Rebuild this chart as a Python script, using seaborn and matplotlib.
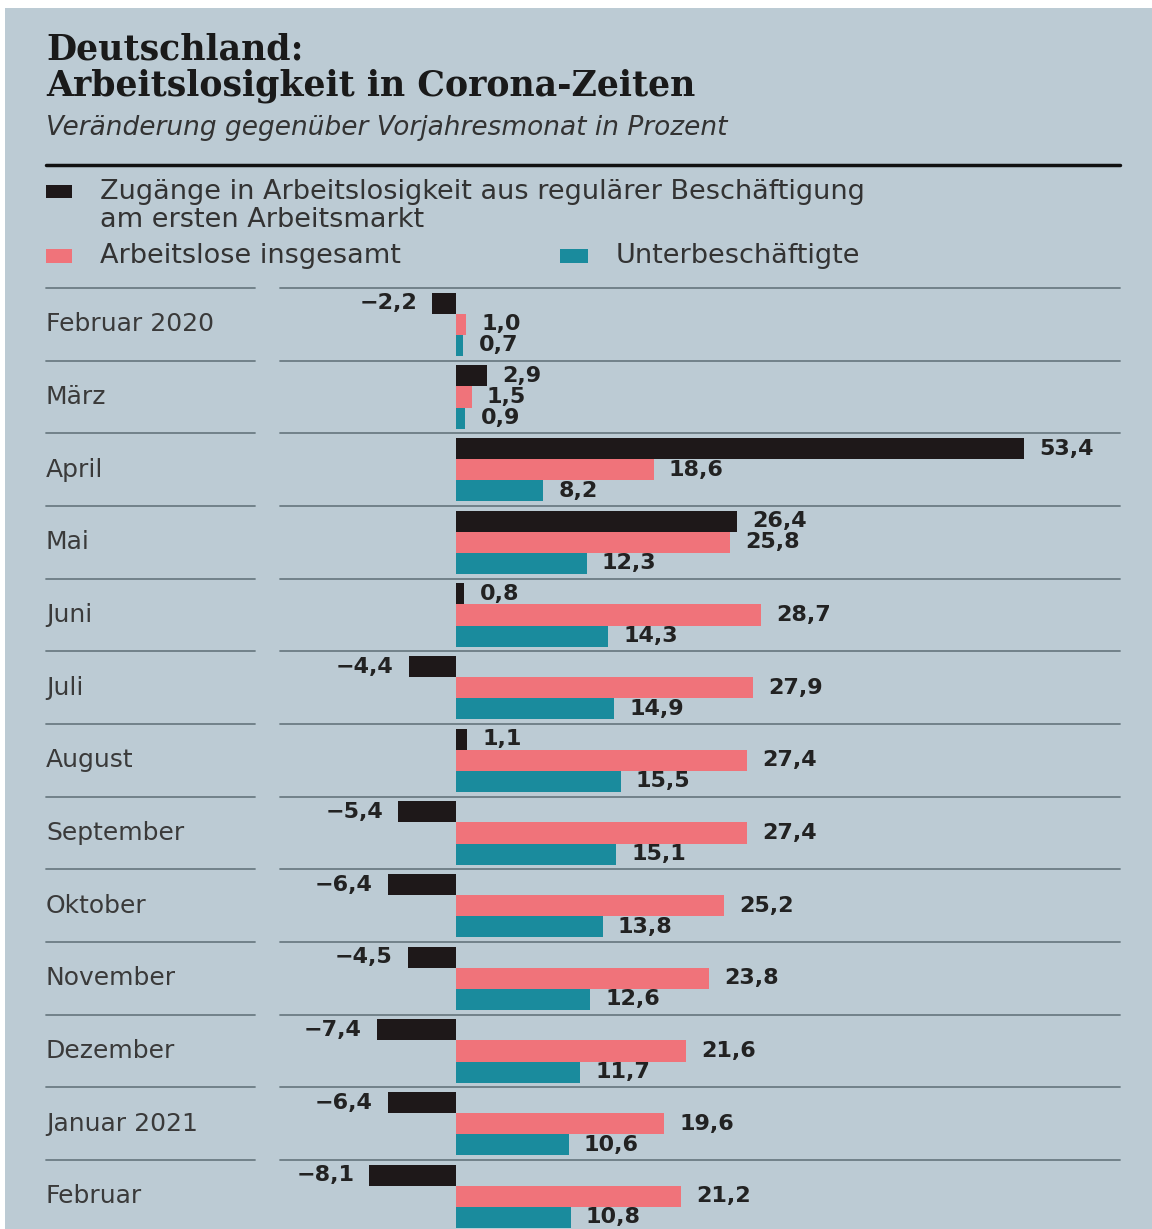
import matplotlib
matplotlib.use("Agg")
import matplotlib.pyplot as plt
import matplotlib.transforms as mtransforms
from matplotlib.patches import Rectangle
from matplotlib.lines import Line2D
import pandas as pd
import seaborn as sns

months = ["Februar 2020", "März", "April", "Mai", "Juni", "Juli", "August",
          "September", "Oktober", "November", "Dezember", "Januar 2021", "Februar"]
zugaenge = [-2.2, 2.9, 53.4, 26.4, 0.8, -4.4, 1.1, -5.4, -6.4, -4.5, -7.4, -6.4, -8.1]
arbeitslose = [1.0, 1.5, 18.6, 25.8, 28.7, 27.9, 27.4, 27.4, 25.2, 23.8, 21.6, 19.6, 21.2]
unterbesch = [0.7, 0.9, 8.2, 12.3, 14.3, 14.9, 15.5, 15.1, 13.8, 12.6, 11.7, 10.6, 10.8]

series = ["Zugänge in Arbeitslosigkeit aus regulärer Beschäftigung\nam ersten Arbeitsmarkt",
          "Arbeitslose insgesamt", "Unterbeschäftigte"]
colors = ["#1e1819", "#f0737a", "#1a8b9d"]
bg = "#bccbd4"
W, H = 1152, 1229

df = pd.concat([
    pd.DataFrame({"Monat": months, "Wert": vals, "Reihe": name})
    for name, vals in zip(series, [zugaenge, arbeitslose, unterbesch])
])

sns.set_theme(style="white")
plt.rcParams["font.family"] = ["DejaVu Sans"]

fig = plt.figure(figsize=(W / 100, H / 100), dpi=100, facecolor="white")
fx = lambda px: px / W
fy = lambda py: 1 - py / H

fig.patches.append(Rectangle((fx(5), 0), 1 - fx(5), fy(8), transform=fig.transFigure,
                             facecolor=bg, edgecolor="none", zorder=-10))

ax = fig.add_axes([fx(280), 0, fx(1120) - fx(280), fy(288)])
ax.set_facecolor("none")
sns.barplot(data=df, y="Monat", x="Wert", hue="Reihe", orient="h", order=months,
            hue_order=series, palette=colors, saturation=1, width=0.87,
            edgecolor="none", linewidth=0, legend=False, ax=ax, zorder=3)

ax.set_xlim(-16.5, 62.4)
ax.set_ylim(12.45, -0.5)
ax.set_xlabel("")
ax.set_ylabel("")
ax.set_xticks([])
ax.set_yticks([])
for s in ax.spines.values():
    s.set_visible(False)


def fmt(v):
    return f"{v:.1f}".replace(".", ",").replace("-", "\u2212")


for cont, vals in zip(ax.containers, [zugaenge, arbeitslose, unterbesch]):
    ax.bar_label(cont, labels=[fmt(v) for v in vals], padding=11,
                 fontsize=16, fontweight="bold", color="#222222")

# Zeilen-Trennlinien und Monatsnamen
blend = mtransforms.blended_transform_factory(fig.transFigure, ax.transData)
line_col = "#6c7c84"
for i in range(len(months)):
    ax.plot([-16.5, 62.4], [i - 0.5, i - 0.5], color=line_col, lw=1.3,
            clip_on=False, zorder=1)
    fig.add_artist(Line2D([fx(46), fx(255)], [i - 0.5, i - 0.5], transform=blend,
                          color=line_col, lw=1.3))
for i, m in enumerate(months):
    fig.text(fx(46), i, m, transform=blend, ha="left", va="center",
             fontsize=18, color="#3a3a3a")

# Titel
fig.text(fx(46), fy(49), "Deutschland:", fontsize=25, fontweight="bold",
         family="DejaVu Serif", color="#1a1a1a", va="center")
fig.text(fx(46), fy(86), "Arbeitslosigkeit in Corona-Zeiten", fontsize=25,
         fontweight="bold", family="DejaVu Serif", color="#1a1a1a", va="center")
fig.text(fx(46), fy(128), "Veränderung gegenüber Vorjahresmonat in Prozent",
         fontsize=19, style="italic", color="#333333", va="center")
fig.add_artist(Line2D([fx(46), fx(1120)], [fy(165), fy(165)], transform=fig.transFigure,
                      color="#111111", lw=2.5))

# Legende
fig.patches.append(Rectangle((fx(46), fy(198)), fx(26), 13 / H, transform=fig.transFigure,
                             facecolor=colors[0], edgecolor="none"))
fig.text(fx(100), fy(192), "Zugänge in Arbeitslosigkeit aus regulärer Beschäftigung",
         fontsize=19.5, color="#333333", va="center")
fig.text(fx(100), fy(220), "am ersten Arbeitsmarkt", fontsize=19.5, color="#333333",
         va="center")
fig.patches.append(Rectangle((fx(46), fy(263)), fx(26), 14 / H, transform=fig.transFigure,
                             facecolor=colors[1], edgecolor="none"))
fig.text(fx(100), fy(256), "Arbeitslose insgesamt", fontsize=19.5, color="#333333",
         va="center")
fig.patches.append(Rectangle((fx(560), fy(263)), fx(28), 14 / H, transform=fig.transFigure,
                             facecolor=colors[2], edgecolor="none"))
fig.text(fx(616), fy(256), "Unterbeschäftigte", fontsize=19.5, color="#333333",
         va="center")

fig.savefig("out.png", dpi=100, facecolor="white")
